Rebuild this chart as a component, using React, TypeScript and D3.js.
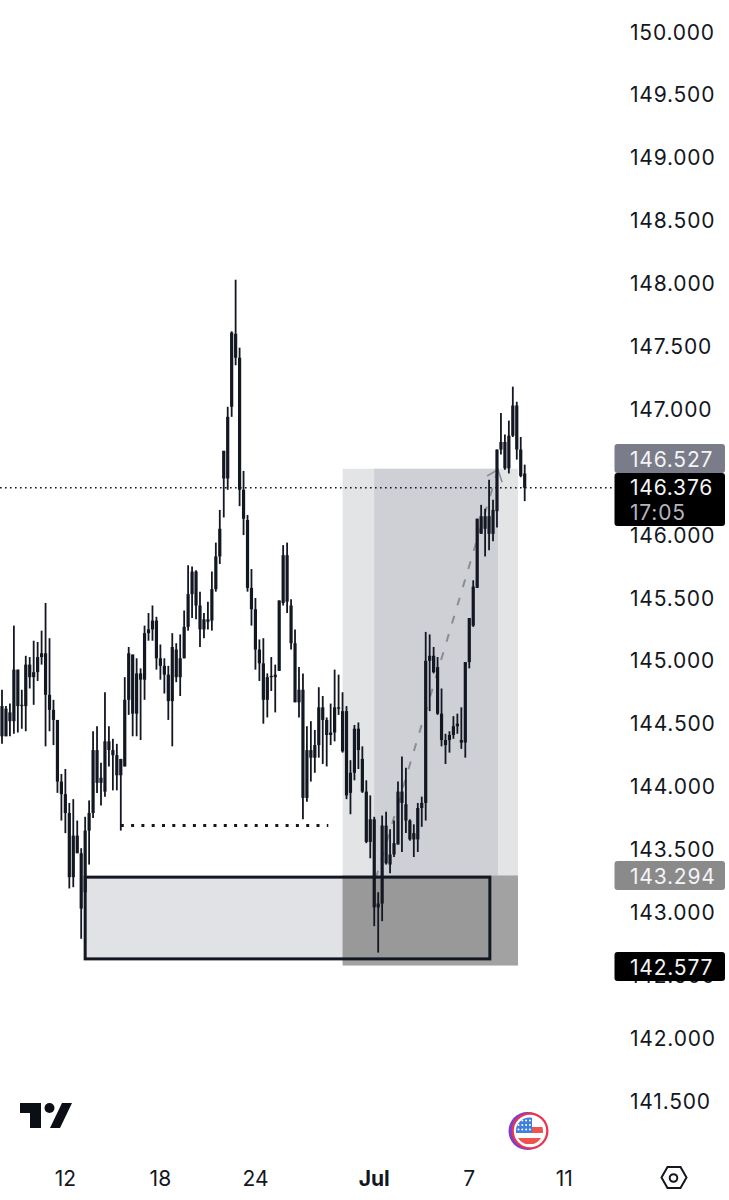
import React from "react";
import * as d3 from "d3";

const highs = [144.77,144.64,144.66,145.28,144.93,144.77,145.04,145.03,145.16,145.15,145.24,145.46,145.18,144.69,144.53,144.10,144.14,143.87,143.90,143.73,143.51,143.76,143.89,144.44,144.48,144.19,144.75,144.48,144.38,144.34,144.22,144.87,145.11,145.05,145.02,144.94,145.28,145.38,145.44,145.35,145.13,145.02,144.96,145.22,
145.14,145.21,145.40,145.76,145.75,145.72,145.55,145.38,145.47,145.71,145.94,146.20,146.67,147.02,147.62,148.03,147.49,146.51,146.16,145.73,145.50,145.17,145.18,144.90,145.03,144.97,145.48,145.92,145.94,145.49,145.25,144.95,144.90,144.48,144.52,144.45,144.79,144.72,144.55,144.66,144.93,144.89,144.75,144.64,
144.21,144.49,144.51,144.32,144.05,143.93,143.76,143.16,143.77,143.80,143.66,143.73,144.04,144.24,144.15,143.74,143.70,143.87,143.92,145.23,145.21,145.11,145.03,144.78,144.42,144.44,144.56,144.58,144.63,144.99,
145.34,145.64,146.13,146.24,146.21,146.44,146.28,146.68,146.97,146.80,146.91,147.18,147.06,146.78,146.56];
const bodyHighs = [144.64,144.62,144.59,144.93,144.93,144.65,144.97,144.97,144.91,145.03,145.06,145.06,144.73,144.61,144.53,144.04,143.94,143.79,143.61,143.61,143.47,143.65,143.79,144.29,144.29,144.07,144.36,144.36,144.29,144.25,144.22,144.69,145.06,145.05,144.90,144.90,145.22,145.25,145.32,145.32,145.02,144.96,144.89,145.11,
145.09,145.02,145.27,145.53,145.71,145.71,145.44,145.33,145.33,145.57,145.83,146.05,146.67,146.94,147.61,147.60,147.41,146.36,146.12,145.58,145.41,145.09,144.98,144.87,144.88,144.89,145.48,145.84,145.84,145.44,145.14,144.77,144.77,144.29,144.29,144.33,144.63,144.63,144.53,144.43,144.63,144.63,144.60,144.60,
144.11,144.46,144.46,144.22,143.96,143.74,143.74,143.07,143.69,143.69,143.46,143.55,143.96,143.96,143.86,143.73,143.63,143.83,143.87,145.00,145.04,145.04,144.95,144.58,144.37,144.41,144.48,144.50,144.37,144.99,
145.34,145.59,146.13,146.15,146.15,146.15,146.20,146.68,146.74,146.74,146.79,147.03,147.03,146.68,146.49];
const bodyLows = [144.40,144.40,144.52,144.52,144.64,144.64,144.64,144.87,144.87,144.91,145.03,144.73,144.61,144.53,144.04,143.94,143.79,143.28,143.28,143.47,143.03,143.16,143.65,143.79,144.03,144.03,143.96,144.29,144.25,144.09,144.09,144.16,144.69,144.58,144.58,144.85,144.85,145.22,145.25,145.02,144.96,144.89,144.68,144.68,
144.87,144.87,145.02,145.27,145.53,145.44,145.25,145.25,145.31,145.32,145.57,145.83,146.45,146.45,147.02,147.41,146.36,146.13,145.58,145.41,145.09,144.98,144.69,144.69,144.87,144.87,144.92,145.46,145.47,145.14,144.67,144.67,143.91,143.91,144.23,144.23,144.33,144.53,144.41,144.41,144.43,144.62,144.28,143.93,
143.95,144.11,144.29,143.96,143.56,143.56,143.04,143.04,143.07,143.39,143.38,143.46,143.54,143.87,143.73,143.58,143.58,143.58,143.83,143.87,145.00,144.91,144.58,144.37,144.33,144.37,144.41,144.48,144.35,144.35,
144.99,145.28,145.58,146.01,146.05,146.01,146.01,146.19,146.68,146.53,146.53,146.79,146.68,146.47,146.376];
const lows = [144.34,144.40,144.40,144.42,144.43,144.46,144.44,144.78,144.65,144.84,144.97,144.32,144.44,144.33,143.95,143.73,143.63,143.19,143.20,143.47,142.79,143.15,143.38,143.75,143.95,143.85,143.92,144.16,143.97,143.97,143.65,144.16,144.57,144.40,144.40,144.37,144.69,145.16,145.16,144.93,144.85,144.74,144.53,144.32,
144.83,144.72,145.02,145.24,145.34,145.33,145.11,145.18,145.25,145.24,145.55,145.77,146.14,146.36,146.94,147.35,146.23,146.00,145.55,145.28,144.93,144.84,144.50,144.55,144.76,144.59,144.92,145.44,145.38,145.09,144.67,144.55,143.74,143.88,144.04,144.11,144.23,144.18,144.16,144.33,144.36,144.57,144.27,143.90,
143.78,144.05,144.14,143.95,143.55,143.43,142.89,142.68,142.93,143.38,143.31,143.44,143.54,143.48,143.63,143.57,143.44,143.48,143.68,143.73,144.60,144.90,144.57,144.32,144.18,144.27,144.38,144.42,144.30,144.23,
144.94,145.27,145.58,146.01,145.83,145.88,145.95,146.06,146.64,146.52,146.49,146.78,146.60,146.46,146.27];

const priceTicks = [150,149.5,149,148.5,148,147.5,147,146.5,146,145.5,145,144.5,144,143.5,143,142.5,142,141.5];
const timeTicks = [16,40,64,94,118,142];
const timeLabels = ["12","18","24","Jul","7","11"];

const lastPrice = 146.376;
const countdown = "17:05";
const targetPrice = 146.527;
const entryPrice = 143.294;
const stopPrice = 142.577;
const zoneFrom = 86, zoneTo = 130.3, innerFrom = 94, innerTo = 125.25;
const boxFrom = 21, boxTo = 123.2, boxTop = 143.28, boxBottom = 142.63;
const dottedFrom = 30, dottedTo = 82.4, dottedPrice = 143.69;
const arrowFrom: [number, number] = [94.4, 143.27];
const arrowApex: [number, number] = [125.25, 146.52];
const arrowLeft: [number, number] = [122.5, 146.47];
const arrowRight: [number, number] = [126.3, 146.42];

const INK = "#131722";
const x = d3.scaleLinear().domain([0, 132]).range([2, 524.7]);
const y = d3.scaleLinear().domain([150, 141.5]).range([32, 1101]);
const pt = d3.line<[number, number]>().x((d) => x(d[0])).y((d) => y(d[1]));
const FONT = "Inter, 'Noto Sans', sans-serif";
const labelProps = { fontSize: 21, letterSpacing: 0.8, dy: "0.36em" };

const Tag = ({ cy, fill, label }: { cy: number; fill: string; label: string }) => (
  <g>
    <rect x={614.5} y={cy - 14.5} width={110.5} height={29} rx={3} fill={fill} />
    <text x={630} y={cy + 0.5} fill="#f4f4f6" {...labelProps}>{label}</text>
  </g>
);

const starCols = d3.range(4);
const starRows = d3.range(3);

export default function App() {
  const idx = d3.range(highs.length);
  return (
    <svg width={729} height={1200} style={{ position: "absolute", left: 0, top: 0, background: "#fff" }} fontFamily={FONT}>
      {/* supply box fill sits under the position zone */}
      <rect x={x(boxFrom)} y={y(boxTop)} width={x(boxTo) - x(boxFrom)} height={y(boxBottom) - y(boxTop)} fill="#e1e2e5" />
      {/* position zone */}
      <rect x={x(zoneFrom)} y={y(targetPrice)} width={x(zoneTo) - x(zoneFrom)} height={y(entryPrice) - y(targetPrice)} fill="#e3e4e6" />
      <rect x={x(innerFrom)} y={y(targetPrice)} width={x(innerTo) - x(innerFrom)} height={y(entryPrice) - y(targetPrice)} fill="#ced0d6" />
      <rect x={x(zoneFrom)} y={y(entryPrice)} width={x(zoneTo) - x(zoneFrom)} height={y(stopPrice) - y(entryPrice)} fill="#a2a2a3" />
      <rect x={x(zoneFrom)} y={y(boxTop)} width={x(boxTo) - x(zoneFrom)} height={y(boxBottom) - y(boxTop)} fill="rgba(0,0,0,0.05)" />
      {/* arrow */}
      <path d={pt([arrowFrom, arrowApex])!} fill="none" stroke="#8b8d92" strokeWidth={2} strokeDasharray="8 11" />
      <path d={pt([arrowLeft, arrowApex, arrowRight])!} fill="none" stroke="#8b8d92" strokeWidth={1.6} />
      {/* box outline */}
      <rect x={x(boxFrom)} y={y(boxTop)} width={x(boxTo) - x(boxFrom)} height={y(boxBottom) - y(boxTop)} fill="none" stroke={INK} strokeWidth={3} />
      {/* last price line */}
      <line x1={0} x2={615} y1={y(lastPrice)} y2={y(lastPrice)} stroke={INK} strokeWidth={1.6} strokeDasharray="1.6 3.4" />
      {/* dotted level */}
      <line x1={x(dottedFrom)} x2={x(dottedTo)} y1={y(dottedPrice)} y2={y(dottedPrice)} stroke={INK} strokeWidth={3} strokeDasharray="3 7.3" />
      {/* candles */}
      {idx.map((i) => (
        <g key={i} stroke={INK}>
          <line x1={x(i)} x2={x(i)} y1={y(highs[i])} y2={y(lows[i])} strokeWidth={1.8} />
          <line x1={x(i)} x2={x(i)} y1={y(bodyHighs[i])} y2={y(bodyLows[i])} strokeWidth={3.2} />
        </g>
      ))}
      {/* price axis */}
      {priceTicks.map((p) => (
        <text key={p} x={630} y={y(p)} fill={INK} {...labelProps}>{p.toFixed(3)}</text>
      ))}
      <Tag cy={458.5} fill="#7b7c8a" label={targetPrice.toFixed(3)} />
      <Tag cy={875.5} fill="#8a8a8a" label={entryPrice.toFixed(3)} />
      <Tag cy={966.5} fill="#000" label={stopPrice.toFixed(3)} />
      <rect x={614.5} y={473} width={110.5} height={53} rx={3} fill="#000" />
      <text x={630} y={y(lastPrice)} fill="#f4f4f6" {...labelProps}>{lastPrice.toFixed(3)}</text>
      <text x={630} y={512} fill="#b2b5be" {...labelProps}>{countdown}</text>
      {/* time axis */}
      {timeTicks.map((t, i) => (
        <text key={t} x={x(t)} y={1178} dy="0.36em" textAnchor="middle" fill={INK} fontSize={21} fontWeight={timeLabels[i] === "Jul" ? 700 : 400}>{timeLabels[i]}</text>
      ))}
      {/* logo */}
      <g fill="#0b0e14">
        <path d="M20 1103H41V1128H30V1113H20Z" />
        <circle cx={49.5} cy={1108} r={5} />
        <path d="M62 1103H72L60 1128H50Z" />
      </g>
      {/* settings */}
      <g fill="none" stroke={INK} strokeWidth={2}>
        <path d="M667.5 1167H680.5L686.5 1177.5L680.5 1188H667.5L661.5 1177.5Z" />
        <circle cx={673.5} cy={1178} r={3.8} />
      </g>
      {/* flag */}
      <defs>
        <clipPath id="flagClip"><circle cx={529.5} cy={1131} r={13.5} /></clipPath>
      </defs>
      <circle cx={527.5} cy={1131} r={19} fill="#7b3fd0" />
      <circle cx={530} cy={1131} r={18.5} fill="#ea3350" />
      <circle cx={530} cy={1131} r={16.2} fill="#fff" />
      <g clipPath="url(#flagClip)">
        <rect x={515} y={1117} width={30} height={28} fill="#fff" />
        <rect x={515} y={1127} width={30} height={6} fill="#ef5350" />
        <rect x={515} y={1138} width={30} height={6} fill="#ef5350" />
        <rect x={515} y={1117} width={17} height={16} fill="#3f7fe0" />
        {starRows.map((r) => starCols.map((c) => (
          <circle key={`${r}-${c}`} cx={518.5 + c * 3.8} cy={1120.5 + r * 4.5} r={1} fill="#fff" />
        )))}
      </g>
    </svg>
  );
}
